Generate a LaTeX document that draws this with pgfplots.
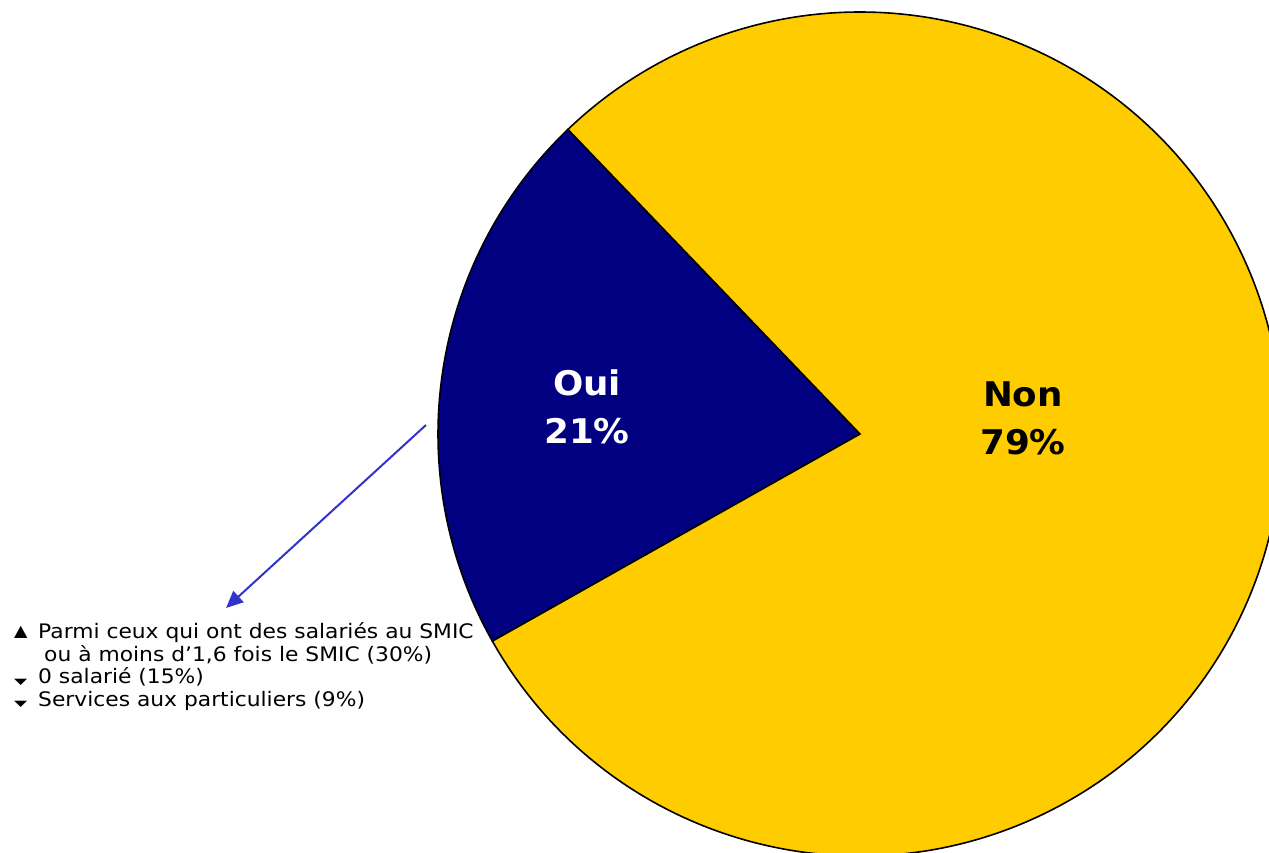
\documentclass[border=0pt]{standalone}
\usepackage{pgfplots}
\pgfplotsset{compat=1.18}
\usepackage{fontspec}
\setmainfont{DejaVu Sans}
\newfontfamily\legfont[FakeStretch=1.09]{DejaVu Sans}
\newfontfamily\bigfont[FakeStretch=1.05]{DejaVu Sans}
\usetikzlibrary{arrows.meta}

\definecolor{oui}{HTML}{000080}
\definecolor{non}{HTML}{FFCC00}
\definecolor{fleche}{HTML}{3333CC}

% parts du camembert (en %)
\def\partoui{21}
\def\partnon{79}
\def\depart{133.8}
\pgfmathsetmacro\milieu{\depart+3.6*\partoui}
\pgfmathsetmacro\fin{\milieu+3.6*\partnon}

\begin{document}
\begin{tikzpicture}
\begin{axis}[
  width=1269pt, height=852pt, scale only axis,
  xmin=0, xmax=1269, ymin=0, ymax=852,
  hide axis,
]
% Oui
\fill[oui, draw=black, line width=1.6pt]
  (axis cs:860,418) -- ++(\depart:422pt) arc[start angle=\depart, end angle=\milieu, radius=422pt] -- cycle;
% Non
\fill[non, draw=black, line width=1.6pt]
  (axis cs:860,418) -- ++(\milieu:422pt) arc[start angle=\milieu, end angle=\fin, radius=422pt] -- cycle;

\node[text=white, font=\bigfont\fontsize{34}{48}\selectfont\bfseries, align=center]
  at (axis cs:587,445) {Oui\\\partoui\%};
\node[text=black, font=\bigfont\fontsize{34}{48}\selectfont\bfseries, align=center]
  at (axis cs:1023,434) {Non\\\partnon\%};

\draw[fleche, line width=2pt, -{Triangle[length=17pt, width=15pt]}]
  (axis cs:426,427) -- (axis cs:226,244);

\begin{scope}[every node/.style={anchor=base west, inner sep=0pt, font=\legfont\fontsize{20}{22}\selectfont}]
\node at (axis cs:14,215) {\fontsize{16}{16}\selectfont ▲};
\node at (axis cs:38,213) {Parmi ceux qui ont des salariés au SMIC};
\node at (axis cs:44,190) {ou à moins d’1,6 fois le SMIC (30\%)};
\node at (axis cs:14,168) {\scalebox{1.05}[0.55]{\fontsize{15}{15}\selectfont ▼}};
\node at (axis cs:38,168) {0 salarié (15\%)};
\node at (axis cs:14,146) {\scalebox{1.05}[0.55]{\fontsize{15}{15}\selectfont ▼}};
\node at (axis cs:38,146) {Services aux particuliers (9\%)};
\end{scope}
\end{axis}
\pgfresetboundingbox
\useasboundingbox (current axis.south west) rectangle (current axis.north east);
\end{tikzpicture}
\end{document}
